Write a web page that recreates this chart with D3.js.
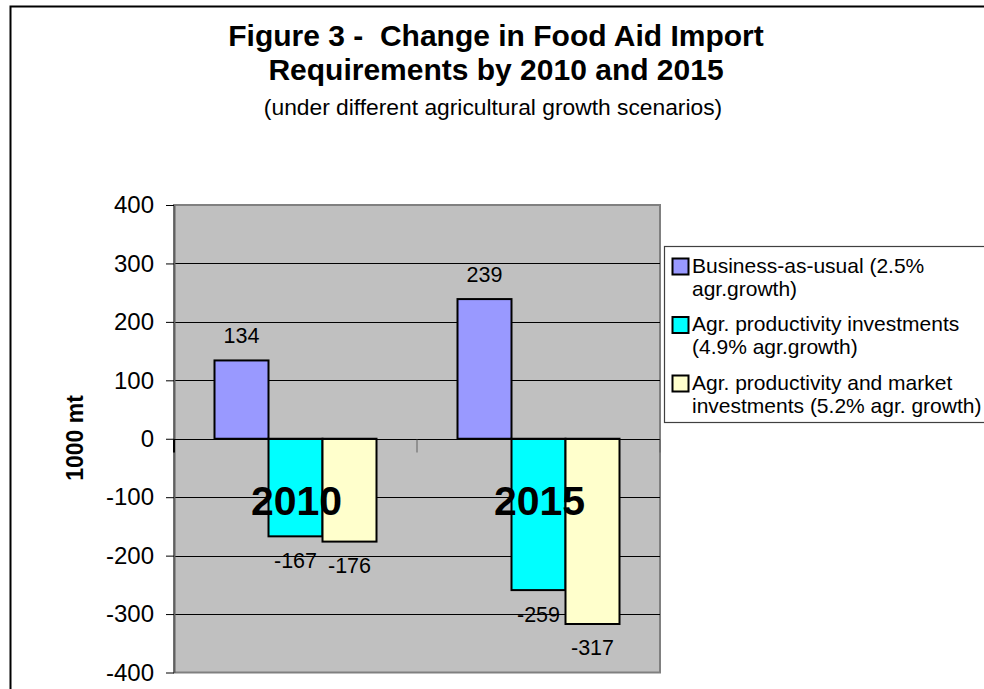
<!DOCTYPE html>
<html>
<head>
<meta charset="utf-8">
<script src="https://cdn.jsdelivr.net/npm/d3@7"></script>
<style>
  html, body { margin: 0; padding: 0; background: #fff; }
  svg { display: block; font-family: "Liberation Sans", Arial, sans-serif; }
</style>
</head>
<body>
<svg id="chart" width="984" height="689"></svg>
<script>
// Years on the category axis
const categories = ["2010", "2015"];
// Scenario names (legend text, split into lines)
const seriesNames = [
  ["Business-as-usual (2.5%", "agr.growth)"],
  ["Agr. productivity investments", "(4.9% agr.growth)"],
  ["Agr. productivity and market", "investments (5.2% agr. growth)"]
];
const seriesKeys = ["bau", "prod", "market"];
// Change in food aid import requirements, 1000 mt
const bauValues = [134, 239];
const prodValues = [-167, -259];
const marketValues = [-176, -317];
const yTicks = [400, 300, 200, 100, 0, -100, -200, -300, -400];
const colors = ["#9999FF", "#00FFFF", "#FFFFCC"];

const seriesValues = [bauValues, prodValues, marketValues];
const rows = categories.map((c, i) => ({
  cat: c,
  vals: seriesKeys.map((k, j) => ({ key: k, idx: j, value: seriesValues[j][i] }))
}));

const svg = d3.select("#chart");

// Outer chart frame
svg.append("rect")
  .attr("x", 10.5).attr("y", 6.5).attr("width", 1000).attr("height", 700)
  .attr("fill", "#fff").attr("stroke", "#000").attr("stroke-width", 2);

// Titles
const title = svg.append("g").attr("text-anchor", "middle");
title.append("text").attr("x", 496).attr("y", 46)
  .attr("font-size", 30).attr("font-weight", "bold")
  .attr("xml:space", "preserve")
  .text("Figure 3 -  Change in Food Aid Import");
title.append("text").attr("x", 496).attr("y", 80)
  .attr("font-size", 30).attr("font-weight", "bold")
  .text("Requirements by 2010 and 2015");
title.append("text").attr("x", 493).attr("y", 115)
  .attr("font-size", 22.8)
  .text("(under different agricultural growth scenarios)");

// Plot area
const plot = { left: 174, right: 660, top: 205, bottom: 672.5 };

const y = d3.scaleLinear().domain([-400, 400]).range([plot.bottom, plot.top]);
const x0 = d3.scaleBand().domain(categories).range([plot.left, plot.right]).padding(0);
const x1 = d3.scaleBand().domain(seriesKeys).range([0, x0.bandwidth()])
  .paddingInner(0).paddingOuter(0.75);

svg.append("rect")
  .attr("x", plot.left).attr("y", plot.top)
  .attr("width", plot.right - plot.left).attr("height", plot.bottom - plot.top)
  .attr("fill", "#C0C0C0").attr("stroke", "#808080").attr("stroke-width", 2);

// Gridlines
svg.append("g")
  .selectAll("line").data(yTicks.filter(t => t !== 400 && t !== -400)).join("line")
  .attr("x1", plot.left).attr("x2", plot.right)
  .attr("y1", d => Math.round(y(d)) + 0.5).attr("y2", d => Math.round(y(d)) + 0.5)
  .attr("stroke", "#000").attr("stroke-width", 1);

// Value axis (plain hyphen for negatives)
const yAxis = d3.axisLeft(y).tickValues(yTicks).tickSize(8).tickSizeOuter(0).tickPadding(12)
  .tickFormat(d => String(d));
const yg = svg.append("g").attr("transform", `translate(${plot.left},0)`).call(yAxis);
yg.select(".domain").attr("stroke", "#606060").attr("stroke-width", 2);
yg.selectAll(".tick line").attr("stroke", "#000");
yg.selectAll(".tick text")
  .attr("font-size", 24).attr("fill", "#000")
  .attr("font-family", "'Liberation Sans', Arial, sans-serif");

// Axis title
svg.append("text")
  .attr("transform", `translate(83,438) rotate(-90)`)
  .attr("text-anchor", "middle")
  .attr("font-size", 23).attr("font-weight", "bold")
  .text("1000 mt");

// Bars
const groups = svg.append("g").selectAll("g").data(rows).join("g")
  .attr("transform", d => `translate(${x0(d.cat)},0)`);

groups.selectAll("rect").data(d => d.vals).join("rect")
  .attr("x", d => x1(d.key))
  .attr("width", x1.bandwidth())
  .attr("y", d => y(Math.max(0, d.value)))
  .attr("height", d => Math.abs(y(d.value) - y(0)))
  .attr("fill", d => colors[d.idx])
  .attr("stroke", "#000").attr("stroke-width", 2);

// Category axis along zero with boundary ticks
const y0 = Math.round(y(0)) + 0.5;
svg.append("line")
  .attr("x1", plot.left).attr("x2", plot.right).attr("y1", y0).attr("y2", y0)
  .attr("stroke", "#000").attr("stroke-width", 1.2);
svg.append("g").selectAll("line")
  .data([plot.left, x0(categories[1]), plot.right]).join("line")
  .attr("x1", d => d).attr("x2", d => d)
  .attr("y1", y0).attr("y2", y0 + 13)
  .attr("stroke", d => d === plot.left ? "#000" : "#606060")
  .attr("stroke-width", d => d === plot.left ? 2 : 1);

// Value labels
groups.selectAll("text.val").data(d => d.vals).join("text")
  .attr("class", "val")
  .attr("x", d => x1(d.key) + x1.bandwidth() / 2)
  .attr("y", d => d.value >= 0 ? y(d.value) - 17 : y(d.value) + 31.5)
  .attr("text-anchor", "middle")
  .attr("font-size", 21.5)
  .text(d => String(d.value));

// Category labels
svg.append("g").selectAll("text").data(categories).join("text")
  .attr("x", d => x0(d) + x0.bandwidth() / 2 + 1)
  .attr("y", 515)
  .attr("text-anchor", "middle")
  .attr("font-size", 41).attr("font-weight", "bold")
  .text(d => d);

// Legend
const legend = svg.append("g").attr("transform", "translate(664.5,246.5)");
legend.append("rect")
  .attr("x", 0).attr("y", 0).attr("width", 340).attr("height", 176)
  .attr("fill", "#fff").attr("stroke", "#404040").attr("stroke-width", 1.2);
const entry = legend.selectAll("g").data(seriesNames).join("g")
  .attr("transform", (d, i) => `translate(0,${i * 58.5})`);
entry.append("rect")
  .attr("x", 8).attr("y", 12).attr("width", 16).attr("height", 16)
  .attr("fill", (d, i) => colors[i]).attr("stroke", "#000").attr("stroke-width", 2);
entry.selectAll("text").data(d => d).join("text")
  .attr("x", 27.5)
  .attr("y", (d, i) => 26 + i * 23)
  .attr("font-size", 21)
  .text(d => d);
</script>
</body>
</html>
